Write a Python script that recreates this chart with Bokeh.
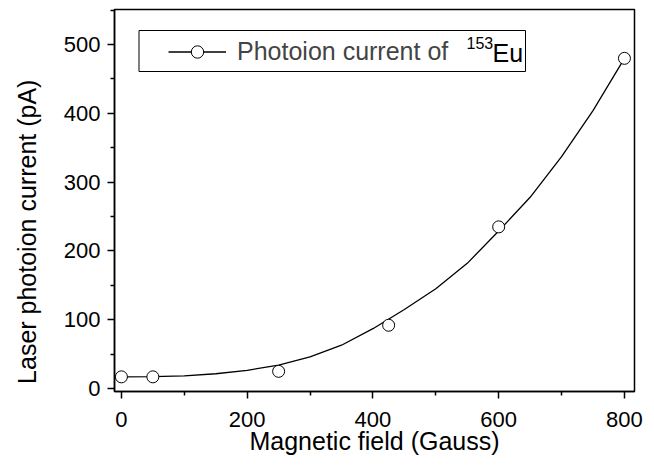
from bokeh.plotting import figure
from bokeh.models import Range1d, FixedTicker, Legend, LegendItem, BoxAnnotation, Label
from bokeh.embed import file_html
from bokeh.resources import INLINE

# measured points
field_gauss = [0, 50, 250, 425, 600, 800]
photoion_pa = [17, 17, 25, 92, 235, 480]

# fitted curve
fit_field = [0, 50, 100, 150, 200, 250, 300, 350, 400, 450, 500, 550, 600, 650, 700, 750, 800]
fit_current = [17, 17.2, 18.5, 21.5, 26.5, 34, 46, 63, 87, 115, 145, 182, 229, 278, 337, 404, 480]

x_ticks = [0, 200, 400, 600, 800]
x_minor = [100, 300, 500, 700]
y_ticks = [0, 100, 200, 300, 400, 500]
y_minor = [50, 150, 250, 350, 450, 550]

x_title = "Magnetic field (Gauss)"
y_title = "Laser photoion current (pA)"
legend_text = "Photoion current of"
isotope_mass = "153"
element = "Eu"

FONT = "Liberation Sans"

p = figure(width=646, height=460, output_backend="svg", toolbar_location=None,
           x_range=Range1d(-11, 816), y_range=Range1d(-4.3, 551),
           min_border_left=114, min_border_right=12, min_border_top=9,
           min_border_bottom=69)
p.xgrid.visible = False
p.ygrid.visible = False
p.outline_line_color = "black"
p.outline_line_width = 1.5
p.outline_line_alpha = 1

fit = p.line(fit_field, fit_current, line_color="black", line_width=1.3)
pts = p.scatter(field_gauss, photoion_pa, size=12, marker="circle",
                fill_color="white", line_color="black", line_width=1)

for ax, ticks, minor in ((p.xaxis[0], x_ticks, x_minor), (p.yaxis[0], y_ticks, y_minor)):
    ax.ticker = FixedTicker(ticks=ticks, minor_ticks=minor)
    ax.major_tick_out = 7
    ax.major_tick_in = 0
    ax.minor_tick_out = 4
    ax.minor_tick_in = 0
    ax.axis_line_width = 1.5
    ax.major_tick_line_width = 1.5
    ax.minor_tick_line_width = 1.5
    ax.major_label_text_font = FONT
    ax.major_label_text_font_size = "22px"
    ax.major_label_text_color = "black"
    ax.axis_label_text_font = FONT
    ax.axis_label_text_font_size = "25px"
    ax.axis_label_text_font_style = "normal"
    ax.axis_label_text_color = "black"

p.xaxis.major_label_standoff = 13
p.xaxis.axis_label = x_title
p.xaxis.axis_label_standoff = -3
p.yaxis.major_label_standoff = 7
# trailing no-break spaces shift the rotated title downwards, as in the reference
p.yaxis.axis_label = y_title + "\u00a0" * 9
p.yaxis.axis_label_standoff = 20

legend = Legend(items=[LegendItem(label=legend_text, renderers=[fit, pts])],
                location=(48, 318), margin=0, padding=6, glyph_width=58,
                glyph_height=31, label_standoff=11, label_text_font=FONT,
                label_text_font_size="25px", border_line_alpha=0,
                background_fill_alpha=0, spacing=0)
p.add_layout(legend)

box = BoxAnnotation(left=24.5, right=411, bottom=320, top=361,
                    left_units="screen", right_units="screen",
                    top_units="screen", bottom_units="screen",
                    fill_alpha=0, line_color="black", line_width=1, line_alpha=1)
p.add_layout(box)

p.add_layout(Label(x=352, y=349, x_units="screen", y_units="screen", text=isotope_mass,
                   text_font=FONT, text_font_size="16px", text_baseline="middle",
                   text_color="black"))
p.add_layout(Label(x=378, y=339, x_units="screen", y_units="screen", text=element,
                   text_font=FONT, text_font_size="25px", text_baseline="middle",
                   text_color="black"))

open("out.html", "w").write(file_html(p, INLINE))
